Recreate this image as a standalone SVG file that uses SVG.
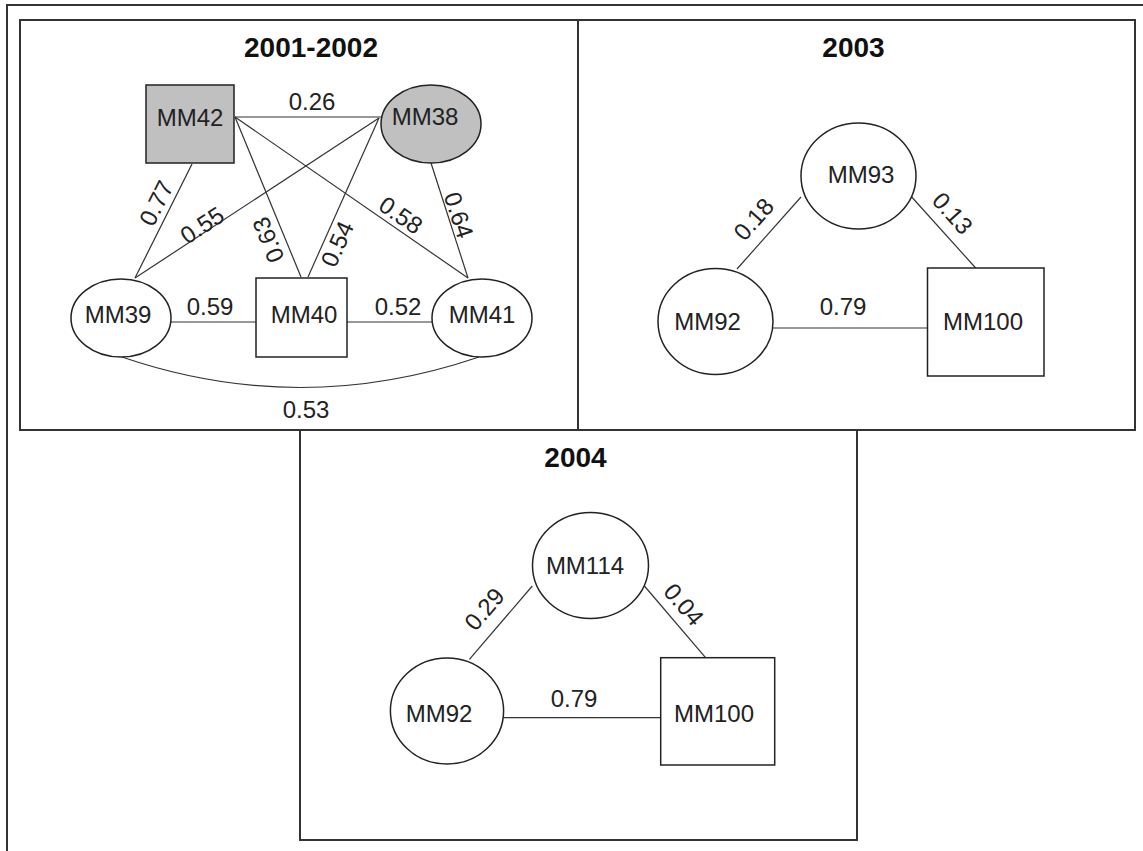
<svg xmlns="http://www.w3.org/2000/svg" width="1143" height="851" viewBox="0 0 1143 851">
  <style>
    .frame { fill: none; stroke: #333; stroke-width: 2; }
    .panel { fill: none; stroke: #333; stroke-width: 2; }
    .edge { fill: none; stroke: #333; stroke-width: 1.2; }
    .shape { fill: #fff; stroke: #222; stroke-width: 1.5; }
    .shape.gray { fill: #c0c0c0; }
    text { font-family: "Liberation Sans", Arial, sans-serif; fill: #222; }
    .title { font-size: 28px; font-weight: bold; text-anchor: middle; fill: #111; }
    .name { font-size: 24px; text-anchor: middle; }
    .w { font-size: 24px; text-anchor: middle; }
  </style>

  <rect width="1143" height="851" fill="#fff"/>

  <!-- outer frame (top and left edges) -->
  <path class="frame" d="M7,851 V5 H1143"/>

  <!-- panels -->
  <g id="panels">
    <rect class="panel" x="20" y="20" width="558" height="410"/>
    <rect class="panel" x="578" y="20" width="557" height="410"/>
    <rect class="panel" x="300" y="430" width="557" height="410"/>
  </g>

  <!-- titles -->
  <g id="titles">
    <text class="title" x="311" y="57">2001-2002</text>
    <text class="title" x="853.5" y="57">2003</text>
    <text class="title" x="575.5" y="467">2004</text>
  </g>

  <!-- connectors with their weights -->
  <g id="connectors">
    <!-- 2001-2002 -->
    <path class="edge" d="M235,117 H381"/>
    <path class="edge" d="M192,164 L135,278"/>
    <path class="edge" d="M235,117 L301,277"/>
    <path class="edge" d="M235,117 L468,278"/>
    <path class="edge" d="M379,118 L135,278"/>
    <path class="edge" d="M379,118 L308,277"/>
    <path class="edge" d="M431,163 L468,278"/>
    <path class="edge" d="M171,322 H256"/>
    <path class="edge" d="M344,322 H433"/>
    <path class="edge" d="M122,357 Q300,418 479,357"/>

    <text class="w" x="312" y="110">0.26</text>
    <text class="w" transform="translate(156,203) rotate(-63.4)" y="8.6">0.77</text>
    <text class="w" transform="translate(202,225) rotate(-33.3)" y="8.6">0.55</text>
    <text class="w" transform="translate(268,240) rotate(-112.4)" y="8.6">0.63</text>
    <text class="w" transform="translate(337,244) rotate(-66)" y="8.6">0.54</text>
    <text class="w" transform="translate(401,215) rotate(34.6)" y="8.6">0.58</text>
    <text class="w" transform="translate(459,215) rotate(72)" y="8.6">0.64</text>
    <text class="w" x="210" y="315">0.59</text>
    <text class="w" x="398" y="315">0.52</text>
    <text class="w" x="306" y="418">0.53</text>

    <!-- 2003 -->
    <path class="edge" d="M770,328 H930"/>
    <path class="edge" d="M801,197 L737,269"/>
    <path class="edge" d="M911.7,197 L975.7,268"/>
    <text class="w" x="843" y="315">0.79</text>
    <text class="w" transform="translate(753.5,219) rotate(-48.4)" y="8.6">0.18</text>
    <text class="w" transform="translate(952.7,213) rotate(48)" y="8.6">0.13</text>

    <!-- 2004 -->
    <path class="edge" d="M502.7,717.7 H660.7"/>
    <path class="edge" d="M532.3,586 L469.4,659.3"/>
    <path class="edge" d="M644.4,586 L706.2,658.3"/>
    <text class="w" x="574" y="706.7">0.79</text>
    <text class="w" transform="translate(484.2,609) rotate(-49.4)" y="8.6">0.29</text>
    <text class="w" transform="translate(684,604.3) rotate(49.5)" y="8.6">0.04</text>
  </g>

  <!-- nodes: 2001-2002 -->
  <g id="p1-mm42">
    <rect class="shape gray" x="146" y="85" width="88" height="78"/>
    <text class="name" x="190" y="126">MM42</text>
  </g>
  <g id="p1-mm38">
    <ellipse class="shape gray" cx="431" cy="124" rx="50" ry="39"/>
    <text class="name" x="425" y="125">MM38</text>
  </g>
  <g id="p1-mm39">
    <ellipse class="shape" cx="121" cy="318" rx="50" ry="39"/>
    <text class="name" x="118" y="323">MM39</text>
  </g>
  <g id="p1-mm40">
    <rect class="shape" x="256" y="278" width="91" height="79"/>
    <text class="name" x="304" y="323">MM40</text>
  </g>
  <g id="p1-mm41">
    <ellipse class="shape" cx="482" cy="318" rx="50" ry="39"/>
    <text class="name" x="482" y="323">MM41</text>
  </g>

  <!-- nodes: 2003 -->
  <g id="p2-mm93">
    <ellipse class="shape" cx="858.5" cy="176" rx="57.5" ry="53"/>
    <text class="name" x="861" y="183">MM93</text>
  </g>
  <g id="p2-mm92">
    <ellipse class="shape" cx="715.5" cy="321.5" rx="57.5" ry="53"/>
    <text class="name" x="707.5" y="330">MM92</text>
  </g>
  <g id="p2-mm100">
    <rect class="shape" x="927.5" y="268" width="116.5" height="108"/>
    <text class="name" x="983" y="330">MM100</text>
  </g>

  <!-- nodes: 2004 -->
  <g id="p3-mm114">
    <ellipse class="shape" cx="590.5" cy="565.5" rx="58" ry="53"/>
    <text class="name" x="585" y="574">MM114</text>
  </g>
  <g id="p3-mm92">
    <ellipse class="shape" cx="447" cy="711" rx="56.6" ry="53"/>
    <text class="name" x="439" y="721.7">MM92</text>
  </g>
  <g id="p3-mm100">
    <rect class="shape" x="660.7" y="657.7" width="114" height="107.3"/>
    <text class="name" x="714" y="721.7">MM100</text>
  </g>
</svg>
